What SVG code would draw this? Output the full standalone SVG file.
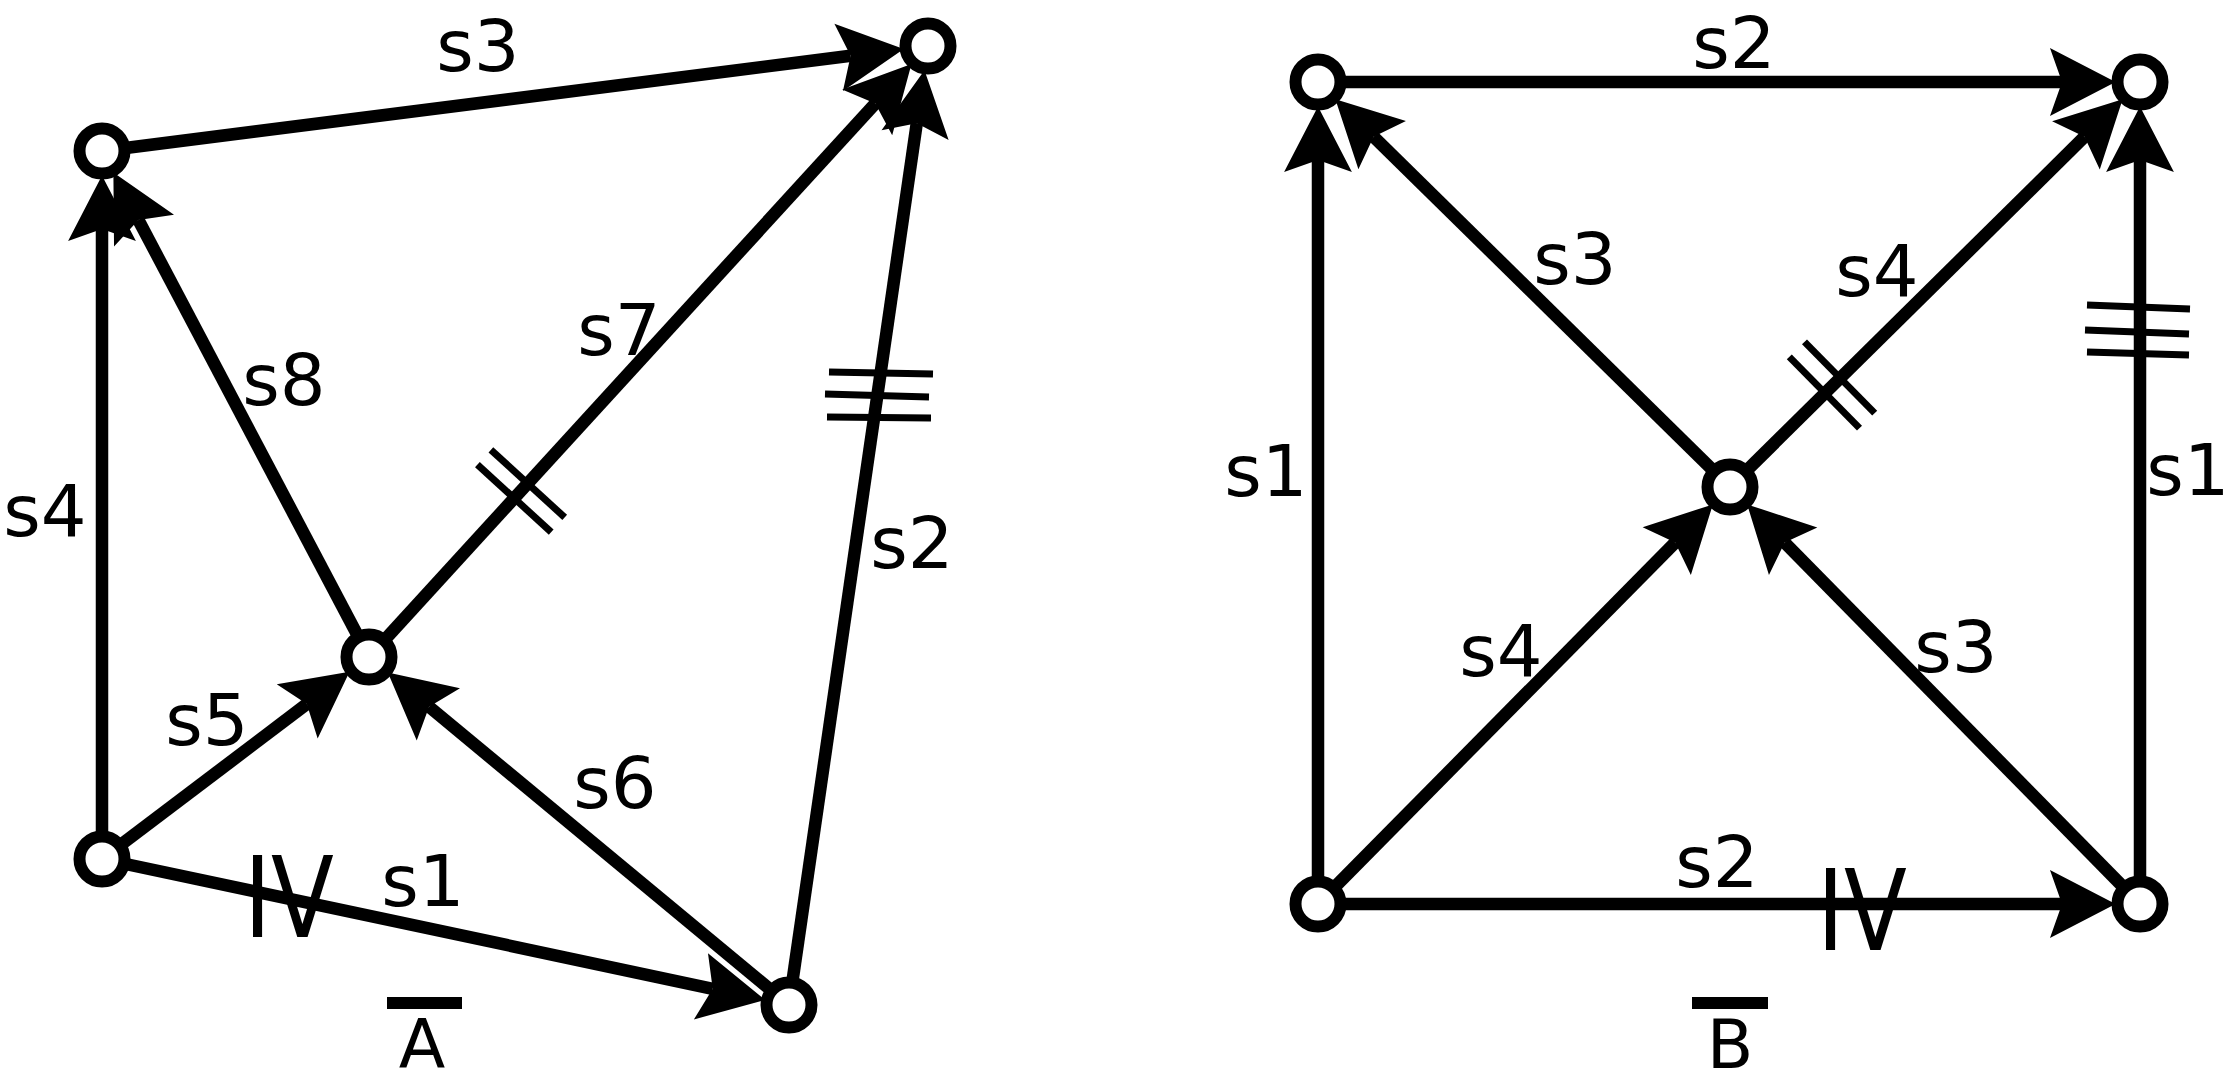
<svg xmlns="http://www.w3.org/2000/svg" width="2230" height="1086" viewBox="0 0 2230 1086">
<style>
.e{stroke:#000;stroke-width:12.5;fill:none;marker-end:url(#ah)}
.t{stroke:#000;stroke-width:7;fill:none}
.n{fill:#fff;stroke:#000;stroke-width:12}
.l{font-family:"DejaVu Sans",sans-serif;font-size:72px;fill:#000;text-anchor:middle}
.c{font-family:"DejaVu Sans",sans-serif;font-size:68px;fill:#000;text-anchor:middle}
.m{font-family:"DejaVu Sans",sans-serif;font-size:112px;fill:#000}
</style>
<defs>
<marker id="ah" markerUnits="userSpaceOnUse" orient="auto" refX="0" refY="0" markerWidth="70" markerHeight="70" viewBox="-12 -32 62 64" overflow="visible">
<path d="M49,0 L-11,-31 L0,0 L-11,31 Z" fill="#000"/>
</marker>
</defs>
<rect width="2230" height="1086" fill="#fff"/>
<g id="connectors">
<line class="e" x1="102" y1="151" x2="850.6" y2="55.8"/>
<line class="e" x1="102" y1="859" x2="102" y2="229"/>
<line class="e" x1="369" y1="657" x2="138.4" y2="220"/>
<line class="e" x1="369" y1="657" x2="875.3" y2="103.5"/>
<line class="e" x1="789" y1="1005" x2="916.8" y2="123.2"/>
<line class="e" x1="102" y1="859" x2="306.8" y2="704.1"/>
<line class="e" x1="789" y1="1005" x2="429.1" y2="706.8"/>
<line class="e" x1="102" y1="859" x2="712.7" y2="988.8"/>
<line class="t" x1="477.4" y1="464.6" x2="551.2" y2="532.1"/>
<line class="t" x1="490.9" y1="449.8" x2="564.7" y2="517.4"/>
<line class="t" x1="829" y1="372" x2="933" y2="374"/>
<line class="t" x1="825" y1="394" x2="929" y2="397"/>
<line class="t" x1="827" y1="417" x2="931" y2="418"/>
<line class="e" x1="1318" y1="82" x2="2062" y2="82"/>
<line class="e" x1="1318" y1="904" x2="1318" y2="160"/>
<line class="e" x1="2140" y1="904" x2="2140" y2="160"/>
<line class="e" x1="1730" y1="487" x2="1373.6" y2="136.7"/>
<line class="e" x1="1730" y1="487" x2="2084.5" y2="136.8"/>
<line class="e" x1="1318" y1="904" x2="1675.2" y2="542.5"/>
<line class="e" x1="2140" y1="904" x2="1784.7" y2="542.6"/>
<line class="e" x1="1318" y1="904" x2="2062" y2="904"/>
<line class="t" x1="1789.3" y1="356.9" x2="1859.5" y2="428.1"/>
<line class="t" x1="1804.5" y1="341.9" x2="1874.7" y2="413.1"/>
<line class="t" x1="2087" y1="305" x2="2190" y2="309"/>
<line class="t" x1="2085" y1="330" x2="2189" y2="334"/>
<line class="t" x1="2087" y1="352" x2="2189" y2="355"/>
</g>
<g id="labels">
<text class="l" x="478" y="71">s3</text>
<text class="l" x="45" y="536">s4</text>
<text class="l" x="284" y="405">s8</text>
<text class="l" x="619" y="355">s7</text>
<text class="l" x="912" y="568">s2</text>
<text class="l" x="207" y="745">s5</text>
<text class="l" x="615" y="808">s6</text>
<text class="l" x="423" y="906">s1</text>
<text class="m" x="244" y="937" textLength="90" lengthAdjust="spacingAndGlyphs">IV</text>
<rect x="387" y="997" width="75" height="12" fill="#000"/>
<text class="c" x="422" y="1068">A</text>
<text class="l" x="1734" y="68">s2</text>
<text class="l" x="1575" y="284">s3</text>
<text class="l" x="1877" y="296">s4</text>
<text class="l" x="1266" y="496">s1</text>
<text class="l" x="2188" y="495">s1</text>
<text class="l" x="1501" y="676">s4</text>
<text class="l" x="1956" y="672">s3</text>
<text class="l" x="1717" y="887">s2</text>
<text class="m" x="1817" y="950" textLength="90" lengthAdjust="spacingAndGlyphs">IV</text>
<rect x="1692" y="997" width="76" height="12" fill="#000"/>
<text class="c" x="1730" y="1068">B</text>
</g>
<g id="nodeA1"><circle class="n" cx="102" cy="151" r="22.5"/></g>
<g id="nodeA2"><circle class="n" cx="928" cy="46" r="22.5"/></g>
<g id="nodeA3"><circle class="n" cx="369" cy="657" r="22.5"/></g>
<g id="nodeA4"><circle class="n" cx="102" cy="859" r="22.5"/></g>
<g id="nodeA5"><circle class="n" cx="789" cy="1005" r="22.5"/></g>
<g id="nodeB1"><circle class="n" cx="1318" cy="82" r="22.5"/></g>
<g id="nodeB2"><circle class="n" cx="2140" cy="82" r="22.5"/></g>
<g id="nodeB3"><circle class="n" cx="1730" cy="487" r="22.5"/></g>
<g id="nodeB4"><circle class="n" cx="1318" cy="904" r="22.5"/></g>
<g id="nodeB5"><circle class="n" cx="2140" cy="904" r="22.5"/></g>
</svg>
